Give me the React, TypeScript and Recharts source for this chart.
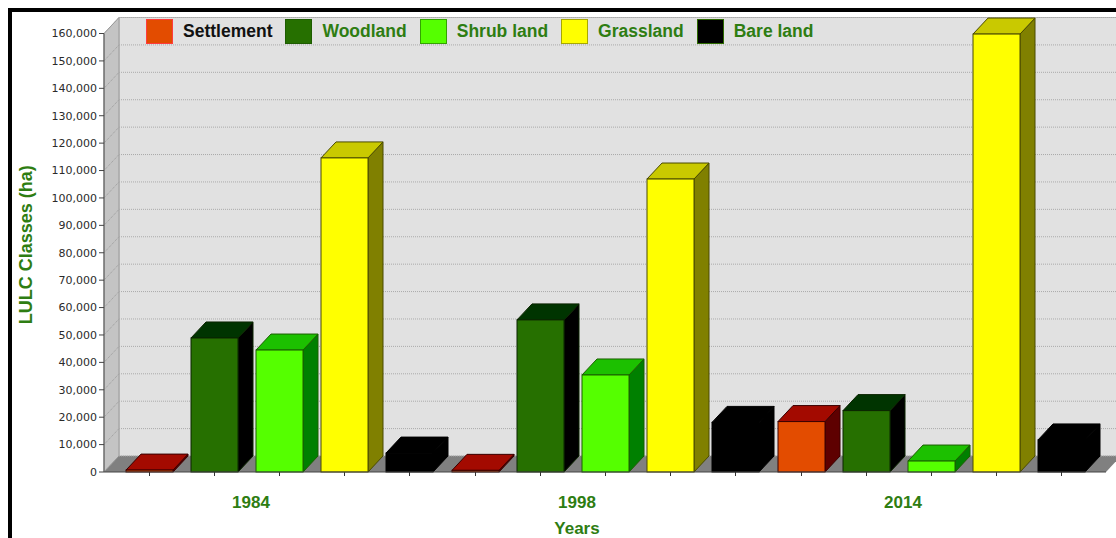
import React from 'react';
import { BarChart, Bar, XAxis, YAxis, CartesianGrid, Legend, Label } from 'recharts';

const YEARS = ['1984', '1998', '2014'];
const SETTLEMENT = [700, 600, 18400];
const WOODLAND = [48900, 55500, 22400];
const SHRUB_LAND = [44500, 35400, 4000];
const GRASSLAND = [114600, 106900, 159800];
const BARE_LAND = [6900, 18100, 11700];
const Y_TICKS = [
  0, 10000, 20000, 30000, 40000, 50000, 60000, 70000, 80000, 90000, 100000, 110000, 120000,
  130000, 140000, 150000, 160000,
];

const GREEN = '#2e7d12';
const FONT = '"Liberation Sans", Arial, sans-serif';

// chart frame
const W = 1116;
const H = 538;
const TOP = 33.5;
const BOTTOM = 472;
const LEFT = 104;
const RIGHT = 1106;
const DX = 15;
const DY = 16;

const SERIES = [
  { key: 'settlement', name: 'Settlement', values: SETTLEMENT, front: '#e34c00', top: '#a30a00', side: '#5e0000', edge: '#3a0000', swatchEdge: '#ff3b3b', label: '#111111' },
  { key: 'woodland', name: 'Woodland', values: WOODLAND, front: '#267000', top: '#003400', side: '#000000', edge: '#0b2400', swatchEdge: '#1d5c00', label: GREEN },
  { key: 'shrub', name: 'Shrub land', values: SHRUB_LAND, front: '#55ff00', top: '#1cc000', side: '#008000', edge: '#1b5e00', swatchEdge: '#33a300', label: GREEN },
  { key: 'grass', name: 'Grassland', values: GRASSLAND, front: '#ffff00', top: '#c9c900', side: '#808000', edge: '#4a4a00', swatchEdge: '#a8a800', label: GREEN },
  { key: 'bare', name: 'Bare land', values: BARE_LAND, front: '#000000', top: '#000000', side: '#000000', edge: '#000000', swatchEdge: '#2d6a00', label: GREEN },
];

const data = YEARS.map((year, i) => {
  const row: Record<string, string | number> = { year };
  SERIES.forEach((s) => {
    row[s.key] = s.values[i];
  });
  return row;
});

function Box3D(props: any) {
  const { x, y, width, height, c } = props;
  if (x == null || y == null || !width) return null;
  const x2 = x + width;
  const yb = y + height;
  const mid = x + width / 2;
  return (
    <g>
      <line x1={mid} y1={yb} x2={mid} y2={yb + 4} stroke="#333" />
      <polygon
        points={`${x2},${y} ${x2 + DX},${y - DY} ${x2 + DX},${yb - DY} ${x2},${yb}`}
        fill={c.side}
        stroke={c.edge}
      />
      <polygon
        points={`${x},${y} ${x + DX},${y - DY} ${x2 + DX},${y - DY} ${x2},${y}`}
        fill={c.top}
        stroke={c.edge}
      />
      <rect x={x} y={y} width={width} height={Math.max(height, 0.5)} fill={c.front} stroke={c.edge} />
    </g>
  );
}

function WallGridLine(p: any) {
  const { x1, x2, y1 } = p;
  return (
    <g key={p.key}>
      <line x1={x1} y1={y1} x2={x1 + DX} y2={y1 - DY} stroke="#9a9a9a" strokeDasharray="1 1" />
      <line x1={x1 + DX} y1={y1 - DY} x2={x2 + DX + 20} y2={y1 - DY} stroke="#aaaaaa" strokeDasharray="1 1" />
    </g>
  );
}

function YearTick(props: any) {
  const { x, y, payload } = props;
  return (
    <text x={x - 29} y={y + 28} textAnchor="middle" fontFamily={FONT} fontWeight="bold" fontSize={17} fill={GREEN}>
      {payload.value}
    </text>
  );
}

function LegendRow() {
  return (
    <div style={{ display: 'flex', alignItems: 'center', fontFamily: FONT, fontWeight: 'bold', fontSize: 17.5 }}>
      {SERIES.map((s) => (
        <div key={s.key} style={{ display: 'flex', alignItems: 'center', marginRight: 13 }}>
          <span
            style={{
              display: 'inline-block',
              width: 27,
              height: 25,
              boxSizing: 'border-box',
              background: s.front,
              border: `1px solid ${s.swatchEdge}`,
              marginRight: 10,
            }}
          />
          <span style={{ color: s.label, whiteSpace: 'nowrap' }}>{s.name}</span>
        </div>
      ))}
    </div>
  );
}

export default function App() {
  return (
    <div style={{ position: 'absolute', left: 0, top: 0, width: W, height: H, background: '#fff', overflow: 'hidden' }}>
      <div
        style={{
          position: 'absolute',
          left: 8,
          top: 8,
          width: W - 8,
          height: H - 8,
          boxSizing: 'border-box',
          borderTop: '4px solid #000',
          borderLeft: '4px solid #000',
        }}
      />
      <svg width={W} height={H} style={{ position: 'absolute', left: 0, top: 0 }}>
        <rect x={LEFT + DX} y={TOP - DY} width={W} height={BOTTOM - TOP} fill="#e1e1e1" stroke="#b8b8b8" />
        <polygon
          points={`${LEFT},${BOTTOM} ${LEFT},${TOP} ${LEFT + DX},${TOP - DY} ${LEFT + DX},${BOTTOM - DY}`}
          fill="#c4c4c4"
          stroke="#9a9a9a"
        />
        <polygon
          points={`${LEFT},${BOTTOM} ${RIGHT},${BOTTOM} ${RIGHT + DX},${BOTTOM - DY} ${LEFT + DX},${BOTTOM - DY}`}
          fill="#808080"
        />
      </svg>
      <div style={{ position: 'absolute', left: 0, top: 0 }}>
        <BarChart
          width={W}
          height={H}
          data={data}
          margin={{ top: TOP, right: W - RIGHT, bottom: 0, left: 0 }}
          barCategoryGap={9}
          barGap={18}
        >
          <CartesianGrid vertical={false} horizontal={(p: any) => <WallGridLine {...p} />} />
          <XAxis
            dataKey="year"
            height={H - BOTTOM}
            padding={{ left: 13, right: 11 }}
            axisLine={{ stroke: '#444' }}
            tickLine={false}
            tick={<YearTick />}
          >
            <Label
              content={(p: any) => {
                const vb = p.viewBox || { x: LEFT, y: BOTTOM, width: RIGHT - LEFT };
                return (
                  <text
                    x={vb.x + vb.width / 2 - 28}
                    y={vb.y + 62}
                    textAnchor="middle"
                    fontFamily={FONT}
                    fontWeight="bold"
                    fontSize={17}
                    fill={GREEN}
                  >
                    Years
                  </text>
                );
              }}
            />
          </XAxis>
          <YAxis
            width={LEFT}
            domain={[0, 160000]}
            ticks={Y_TICKS}
            interval={0}
            tickSize={5}
            tickMargin={2}
            axisLine={{ stroke: '#555' }}
            tickLine={{ stroke: '#444' }}
            tick={{ fontSize: 11, fill: '#2a2a2a', fontFamily: '"DejaVu Sans", Verdana, sans-serif' }}
            tickFormatter={(v: number) => v.toLocaleString('en-US')}
          >
            <Label
              content={(p: any) => {
                const vb = p.viewBox || { x: 0, y: TOP, height: BOTTOM - TOP };
                const cx = vb.x + 26;
                const cy = vb.y + vb.height / 2 - 8;
                return (
                  <text
                    x={cx}
                    y={cy}
                    transform={`rotate(-90 ${cx} ${cy})`}
                    textAnchor="middle"
                    dominantBaseline="central"
                    fontFamily={FONT}
                    fontWeight="bold"
                    fontSize={18}
                    fill={GREEN}
                  >
                    LULC Classes (ha)
                  </text>
                );
              }}
            />
          </YAxis>
          <Legend
            verticalAlign="middle"
            align="center"
            wrapperStyle={{ top: 19, left: 146, width: 'auto', height: 25 }}
            content={() => <LegendRow />}
          />
          {SERIES.map((s) => (
            <Bar
              key={s.key}
              dataKey={s.key}
              name={s.name}
              fill={s.front}
              isAnimationActive={false}
              shape={(p: any) => <Box3D {...p} c={s} />}
            />
          ))}
        </BarChart>
      </div>
    </div>
  );
}
